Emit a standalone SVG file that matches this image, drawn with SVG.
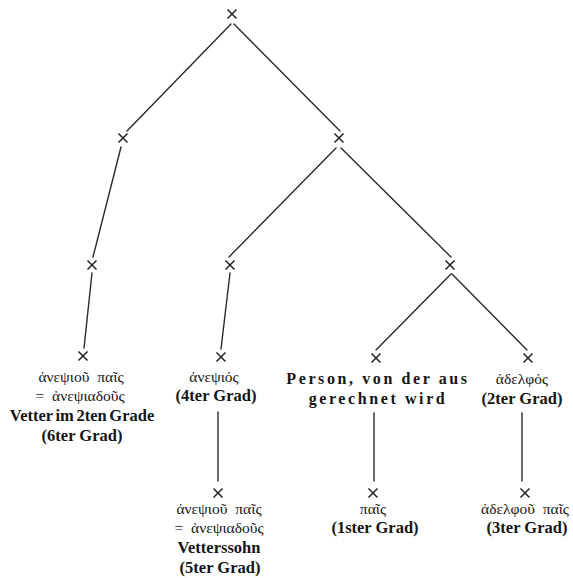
<svg xmlns="http://www.w3.org/2000/svg" xmlns:xlink="http://www.w3.org/1999/xlink" width="573" height="578" viewBox="0 0 573 578">
<style>
  .bg { fill: #ffffff; }
  .edge { stroke: #2a2a2a; stroke-width: 1.4; fill: none; stroke-linecap: round; }
  .cross { stroke: #222222; stroke-width: 1.5; fill: none; }
  .lat { font-family: "Liberation Serif", "DejaVu Serif", serif; font-weight: bold; font-size: 16.5px; fill: #151515; text-anchor: middle; }
  .tight { word-spacing: -1.5px; }
  .sp { letter-spacing: 2.6px; font-size: 16px; }
  .gr { font-family: "Liberation Serif", "DejaVu Serif", serif; font-size: 15.5px; fill: #151515; text-anchor: middle; word-spacing: 4px; }
</style>
<defs>
  <path id="x" class="cross" d="M-4.5,-4.5 L4.5,4.5 M-4.5,4.5 L4.5,-4.5"/>
</defs>
<rect class="bg" x="0" y="0" width="573" height="578"/>

<g id="connectors">
  <line class="edge" x1="231" y1="24" x2="127" y2="131"/>
  <line class="edge" x1="234" y1="24" x2="340" y2="131"/>
  <line class="edge" x1="121" y1="147" x2="93" y2="257"/>
  <line class="edge" x1="336" y1="148" x2="229" y2="257"/>
  <line class="edge" x1="341" y1="148" x2="451" y2="257"/>
  <line class="edge" x1="92" y1="273" x2="84" y2="348"/>
  <line class="edge" x1="230" y1="273" x2="221" y2="349"/>
  <line class="edge" x1="451" y1="274" x2="376" y2="350"/>
  <line class="edge" x1="452" y1="274" x2="527" y2="350"/>
  <line class="edge" x1="218" y1="412" x2="218" y2="481"/>
  <line class="edge" x1="374" y1="413" x2="374" y2="481"/>
  <line class="edge" x1="522" y1="413" x2="522" y2="481"/>
</g>

<g id="n0"><use xlink:href="#x" x="232" y="14"/></g>
<g id="n1"><use xlink:href="#x" x="123" y="138"/></g>
<g id="n2"><use xlink:href="#x" x="339" y="138"/></g>
<g id="n3"><use xlink:href="#x" x="92" y="265"/></g>
<g id="n4"><use xlink:href="#x" x="230" y="265"/></g>
<g id="n5"><use xlink:href="#x" x="450" y="265"/></g>

<g id="n6">
  <use xlink:href="#x" x="83" y="356"/>
  <text class="gr" x="81" y="382">ἀνεψιοῦ παῖς</text>
  <text class="gr" x="80" y="401">= ἀνεψιαδοῦς</text>
  <text class="lat tight" x="82" y="421">Vetter im 2ten Grade</text>
  <text class="lat" x="82" y="441">(6ter Grad)</text>
</g>

<g id="n7">
  <use xlink:href="#x" x="221" y="357"/>
  <text class="gr" x="214" y="382">ἀνεψιός</text>
  <text class="lat" x="216" y="401">(4ter Grad)</text>
</g>

<g id="n8">
  <use xlink:href="#x" x="376" y="358"/>
  <text class="lat sp" x="378" y="384">Person, von der aus</text>
  <text class="lat sp" x="378" y="404">gerechnet wird</text>
</g>

<g id="n9">
  <use xlink:href="#x" x="528" y="358"/>
  <text class="gr" x="522" y="384">ἀδελφός</text>
  <text class="lat" x="522" y="404">(2ter Grad)</text>
</g>

<g id="n10">
  <use xlink:href="#x" x="218" y="493"/>
  <text class="gr" x="219" y="514">ἀνεψιοῦ παῖς</text>
  <text class="gr" x="219" y="533">= ἀνεψιαδοῦς</text>
  <text class="lat" x="219" y="553">Vetterssohn</text>
  <text class="lat" x="220" y="573">(5ter Grad)</text>
</g>

<g id="n11">
  <use xlink:href="#x" x="373" y="493"/>
  <text class="gr" x="373" y="514">παῖς</text>
  <text class="lat" x="375" y="533">(1ster Grad)</text>
</g>

<g id="n12">
  <use xlink:href="#x" x="525" y="493"/>
  <text class="gr" x="525" y="514">ἀδελφοῦ παῖς</text>
  <text class="lat" x="527" y="533">(3ter Grad)</text>
</g>
</svg>
